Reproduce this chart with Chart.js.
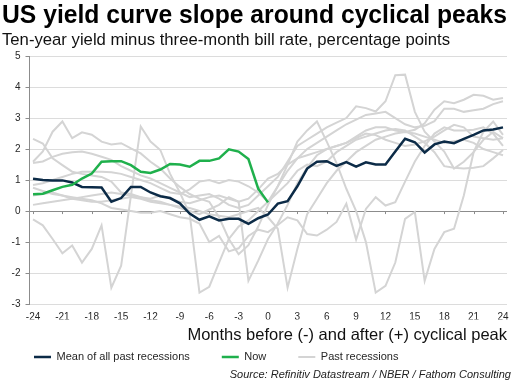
<!DOCTYPE html>
<html>
<head>
<meta charset="utf-8">
<script src="https://cdn.jsdelivr.net/npm/chart.js@4.4.1/dist/chart.umd.min.js"></script>
<style>
  body { margin: 0; background: #fff; font-family: "Liberation Sans", Arial, sans-serif; }
  #wrap { position: relative; width: 521px; height: 387px; }
  #source { position: absolute; right: 10px; top: 368px; font-size: 11px; font-style: italic; color: #222; white-space: nowrap; }
</style>
</head>
<body>
<div id="wrap">
  <canvas id="chart" width="521" height="387"></canvas>
  <div id="source">Source: Refinitiv Datastream / NBER / Fathom Consulting</div>
</div>
<script>
// months relative to the cyclical peak
const months = [-24, -23, -22, -21, -20, -19, -18, -17, -16, -15, -14, -13,
  -12, -11, -10, -9, -8, -7, -6, -5, -4, -3, -2, -1,
  0, 1, 2, 3, 4, 5, 6, 7, 8, 9, 10, 11,
  12, 13, 14, 15, 16, 17, 18, 19, 20, 21, 22, 23, 24];
const xTicks = [-24, -21, -18, -15, -12, -9, -6, -3, 0, 3, 6, 9, 12, 15, 18, 21, 24];

// mean of all past recessions
const meanPast = [1.04, 1.00, 0.99, 0.99, 0.92, 0.78, 0.77, 0.76, 0.30, 0.42, 0.78, 0.78,
  0.60, 0.48, 0.42, 0.25, -0.08, -0.28, -0.17, -0.30, -0.25, -0.25, -0.41, -0.23,
  -0.11, 0.24, 0.32, 0.80, 1.37, 1.59, 1.61, 1.46, 1.58, 1.43, 1.57, 1.50,
  1.50, 1.92, 2.33, 2.22, 1.89, 2.15, 2.24, 2.19, 2.33, 2.46, 2.60, 2.63, 2.70];

// current cycle, up to month 0
const nowCycle = [0.54, 0.56, 0.67, 0.78, 0.85, 1.05, 1.21, 1.59, 1.61, 1.61, 1.48, 1.27,
  1.23, 1.34, 1.52, 1.50, 1.43, 1.62, 1.62, 1.70, 1.99, 1.92, 1.68, 0.72, 0.28];

// individual past recessions
const past1 = [2.33, 2.18, 1.70, 1.48, 1.27, 1.20, 1.15, 1.10, 0.95, 0.60, 0.55, 0.45,
  0.35, 0.30, 0.20, 0.10, 0.00, -0.10, 0.05, 0.20, 0.45, 0.30, -2.25, -1.60,
  -0.90, -0.40, 0.20, 0.90, 1.40, 1.80, 2.00, 2.10, 2.20, 2.40, 2.60, 2.70,
  2.70, 2.60, 2.55, 2.62, 2.83, 3.27, 3.54, 3.48, 3.59, 3.75, 3.72, 3.59, 3.65];
const past2 = [1.59, 1.92, 2.56, 2.89, 2.35, 2.54, 2.46, 2.24, 2.15, 2.19, 2.02, 1.86,
  1.59, 1.37, 1.05, 0.78, 0.55, 0.40, 0.30, -0.20, -0.90, -1.39, -1.10, -0.50,
  0.20, 0.80, 1.30, 1.70, 2.00, 2.20, 2.40, 2.60, 2.80, 2.95, 3.10, 3.15,
  3.20, 3.00, 2.80, 2.70, 2.75, 2.90, 3.30, 3.30, 3.20, 3.25, 3.30, 3.45, 3.54];
const past3 = [1.55, 1.60, 1.75, 1.85, 1.90, 1.92, 1.85, 1.75, 1.65, 1.45, 1.30, 1.15,
  1.05, 0.90, 0.75, 0.60, 0.45, 0.50, 0.55, 0.40, 0.20, 0.10, 0.20, 0.50,
  0.80, 1.10, 1.60, 2.10, 2.30, 2.50, 2.70, 2.85, 3.00, 3.38, 3.32, 3.21,
  3.54, 4.38, 4.40, 3.20, 2.56, 2.24, 1.92, 1.37, 1.59, 1.90, 2.30, 2.55, 2.35];
const past4 = [0.84, 0.90, 1.00, 1.10, 1.20, 1.27, 1.27, 1.27, 1.25, 1.20, 1.10, 1.00,
  0.90, 0.75, 0.60, 0.55, 0.70, 0.95, 1.00, 0.90, 1.00, 0.95, 0.80, 0.60,
  0.30, 0.80, 1.50, 2.24, 2.60, 2.89, 2.24, 1.55, 0.72, 0.00, -1.00, -2.63,
  -2.41, -1.66, -0.25, -0.03, -2.25, -1.22, -0.68, -0.57, 0.50, 1.90, 2.56, 2.89, 2.46];
const past5 = [0.75, 0.65, 0.55, 0.50, 0.45, 0.40, 0.35, 0.25, 0.10, 0.05, 0.00, -0.05,
  -0.05, 0.00, -0.10, -0.20, -0.25, -0.40, -1.00, -0.80, -1.30, -1.20, -0.80, -0.60,
  -0.68, -0.45, -0.20, -0.30, -0.74, -0.79, -0.60, -0.35, 0.24, -0.92, 0.07, 0.45,
  0.18, 0.29, 0.95, 1.60, 2.10, 2.50, 2.70, 2.60, 2.60, 2.62, 2.70, 2.50, 2.10];
const past6 = [-0.27, -0.46, -0.90, -1.36, -1.11, -1.66, -1.22, -0.46, -2.47, -1.76, 0.50, 2.73,
  2.24, 1.97, 1.20, 0.60, -0.10, -2.63, -2.44, -1.66, -0.90, -0.50, -0.30, 0.00,
  0.30, 0.60, 0.90, 1.30, 1.50, 1.45, 1.60, 1.90, 2.10, 2.30, 2.40, 2.50,
  2.60, 2.65, 2.60, 2.40, 2.20, 1.90, 1.45, 1.40, 1.37, 1.40, 1.45, 1.70, 1.97];
const past7 = [0.50, 0.55, 0.60, 0.50, 0.40, 0.35, 0.30, 0.30, 0.35, 0.40, 0.45, 0.40,
  0.30, 0.25, 0.20, 0.15, 0.10, 0.00, -0.10, -0.15, -0.20, -0.10, 0.00, 0.10,
  -0.20, -0.57, -2.47, -1.22, -0.10, 0.40, 0.90, 1.30, 1.60, 1.90, 2.10, 2.30,
  2.40, 2.50, 2.55, 2.50, 2.40, 2.30, 2.20, 2.25, 2.30, 2.20, 2.00, 1.90, 1.80];
const past8 = [0.20, 0.25, 0.30, 0.35, 0.40, 0.45, 0.50, 0.55, 0.60, 0.55, 0.50, 0.45,
  0.40, 0.50, 0.40, 0.30, 0.25, 0.35, 0.45, 0.50, 0.40, 0.30, 0.40, 0.70,
  1.05, 1.20, 1.50, 1.70, 1.80, 1.90, 2.00, 2.10, 2.20, 2.35, 2.50, 2.45,
  2.30, 2.20, 2.10, 2.15, 2.25, 2.40, 2.60, 2.78, 2.70, 2.40, 2.35, 2.30, 2.35];
const pastRecessions = [past1, past2, past3, past4, past5, past6, past7, past8];

const NAVY = "#0c2b47";
const GREEN = "#1fb04c";
const GREY = "#d4d4d4";
const FONT = "'Liberation Sans', Arial, sans-serif";

const datasets = [
  { label: "Mean of all past recessions", data: meanPast, borderColor: NAVY, backgroundColor: NAVY, borderWidth: 2.5, order: 1 },
  { label: "Now", data: nowCycle, borderColor: GREEN, backgroundColor: GREEN, borderWidth: 2.5, order: 0 },
];
pastRecessions.forEach(series => {
  datasets.push({ label: "Past recessions", data: series, borderColor: GREY, backgroundColor: GREY, borderWidth: 2, order: 2 });
});

// little tick marks on the zero line
const zeroTicks = {
  id: "zeroTicks",
  beforeDatasetsDraw(chart) {
    const { ctx, scales: { x, y } } = chart;
    const y0 = y.getPixelForValue(0);
    ctx.save();
    ctx.strokeStyle = "#8c8c8c";
    ctx.lineWidth = 1;
    xTicks.forEach(t => {
      const px = Math.round(x.getPixelForValue(t)) + 0.5;
      ctx.beginPath();
      ctx.moveTo(px, y0);
      ctx.lineTo(px, y0 + 3);
      ctx.stroke();
    });
    ctx.restore();
  }
};

Chart.defaults.font.family = FONT;
Chart.defaults.color = "#262626";

new Chart(document.getElementById("chart"), {
  type: "line",
  data: { labels: months, datasets: datasets },
  plugins: [zeroTicks],
  options: {
    responsive: false,
    animation: false,
    devicePixelRatio: 1,
    layout: { padding: { left: 2, right: 14, top: 0, bottom: 22.5 } },
    elements: { point: { radius: 0 }, line: { tension: 0 } },
    scales: {
      x: {
        type: "linear",
        min: -24.36,
        max: 24.41,
        afterBuildTicks: s => { s.ticks = xTicks.map(v => ({ value: v })); },
        grid: { display: false, drawTicks: false },
        border: { display: false },
        ticks: { autoSkip: false, maxRotation: 0, padding: 7, font: { size: 10 }, color: "#262626" },
        title: {
          display: true,
          text: "Months before (-) and after (+) cyclical peak",
          align: "end",
          color: "#111",
          font: { size: 16.5 },
          padding: { top: -5, bottom: -25.4 }
        }
      },
      y: {
        min: -3,
        max: 5,
        afterFit: s => { s.width = 27.5; },
        ticks: { stepSize: 1, padding: 5, font: { size: 10 }, color: "#262626" },
        grid: {
          color: c => (c.tick && c.tick.value === 0 ? "#8c8c8c" : "#dcdcdc"),
          lineWidth: 1,
          tickLength: 4,
          tickColor: "#8c8c8c"
        },
        border: { display: true, color: "#8c8c8c" }
      }
    },
    plugins: {
      title: {
        display: true,
        text: "US yield curve slope around cyclical peaks",
        align: "start",
        color: "#000",
        font: { size: 25, weight: "bold", lineHeight: 1.1 },
        padding: { top: 2.5, bottom: 0 }
      },
      subtitle: {
        display: true,
        text: "Ten-year yield minus three-month bill rate, percentage points",
        align: "start",
        color: "#111",
        font: { size: 16.7, lineHeight: 1.2 },
        padding: { top: 0, bottom: 6 }
      },
      legend: {
        position: "bottom",
        align: "start",
        maxHeight: 45,
        labels: {
          usePointStyle: true,
          pointStyle: "line",
          pointStyleWidth: 17,
          boxHeight: 11,
          padding: 32,
          font: { size: 11 },
          color: "#262626",
          filter: item => item.datasetIndex <= 2,
          sort: (a, b) => a.datasetIndex - b.datasetIndex
        }
      },
      tooltip: { enabled: false }
    }
  }
});
</script>
</body>
</html>
